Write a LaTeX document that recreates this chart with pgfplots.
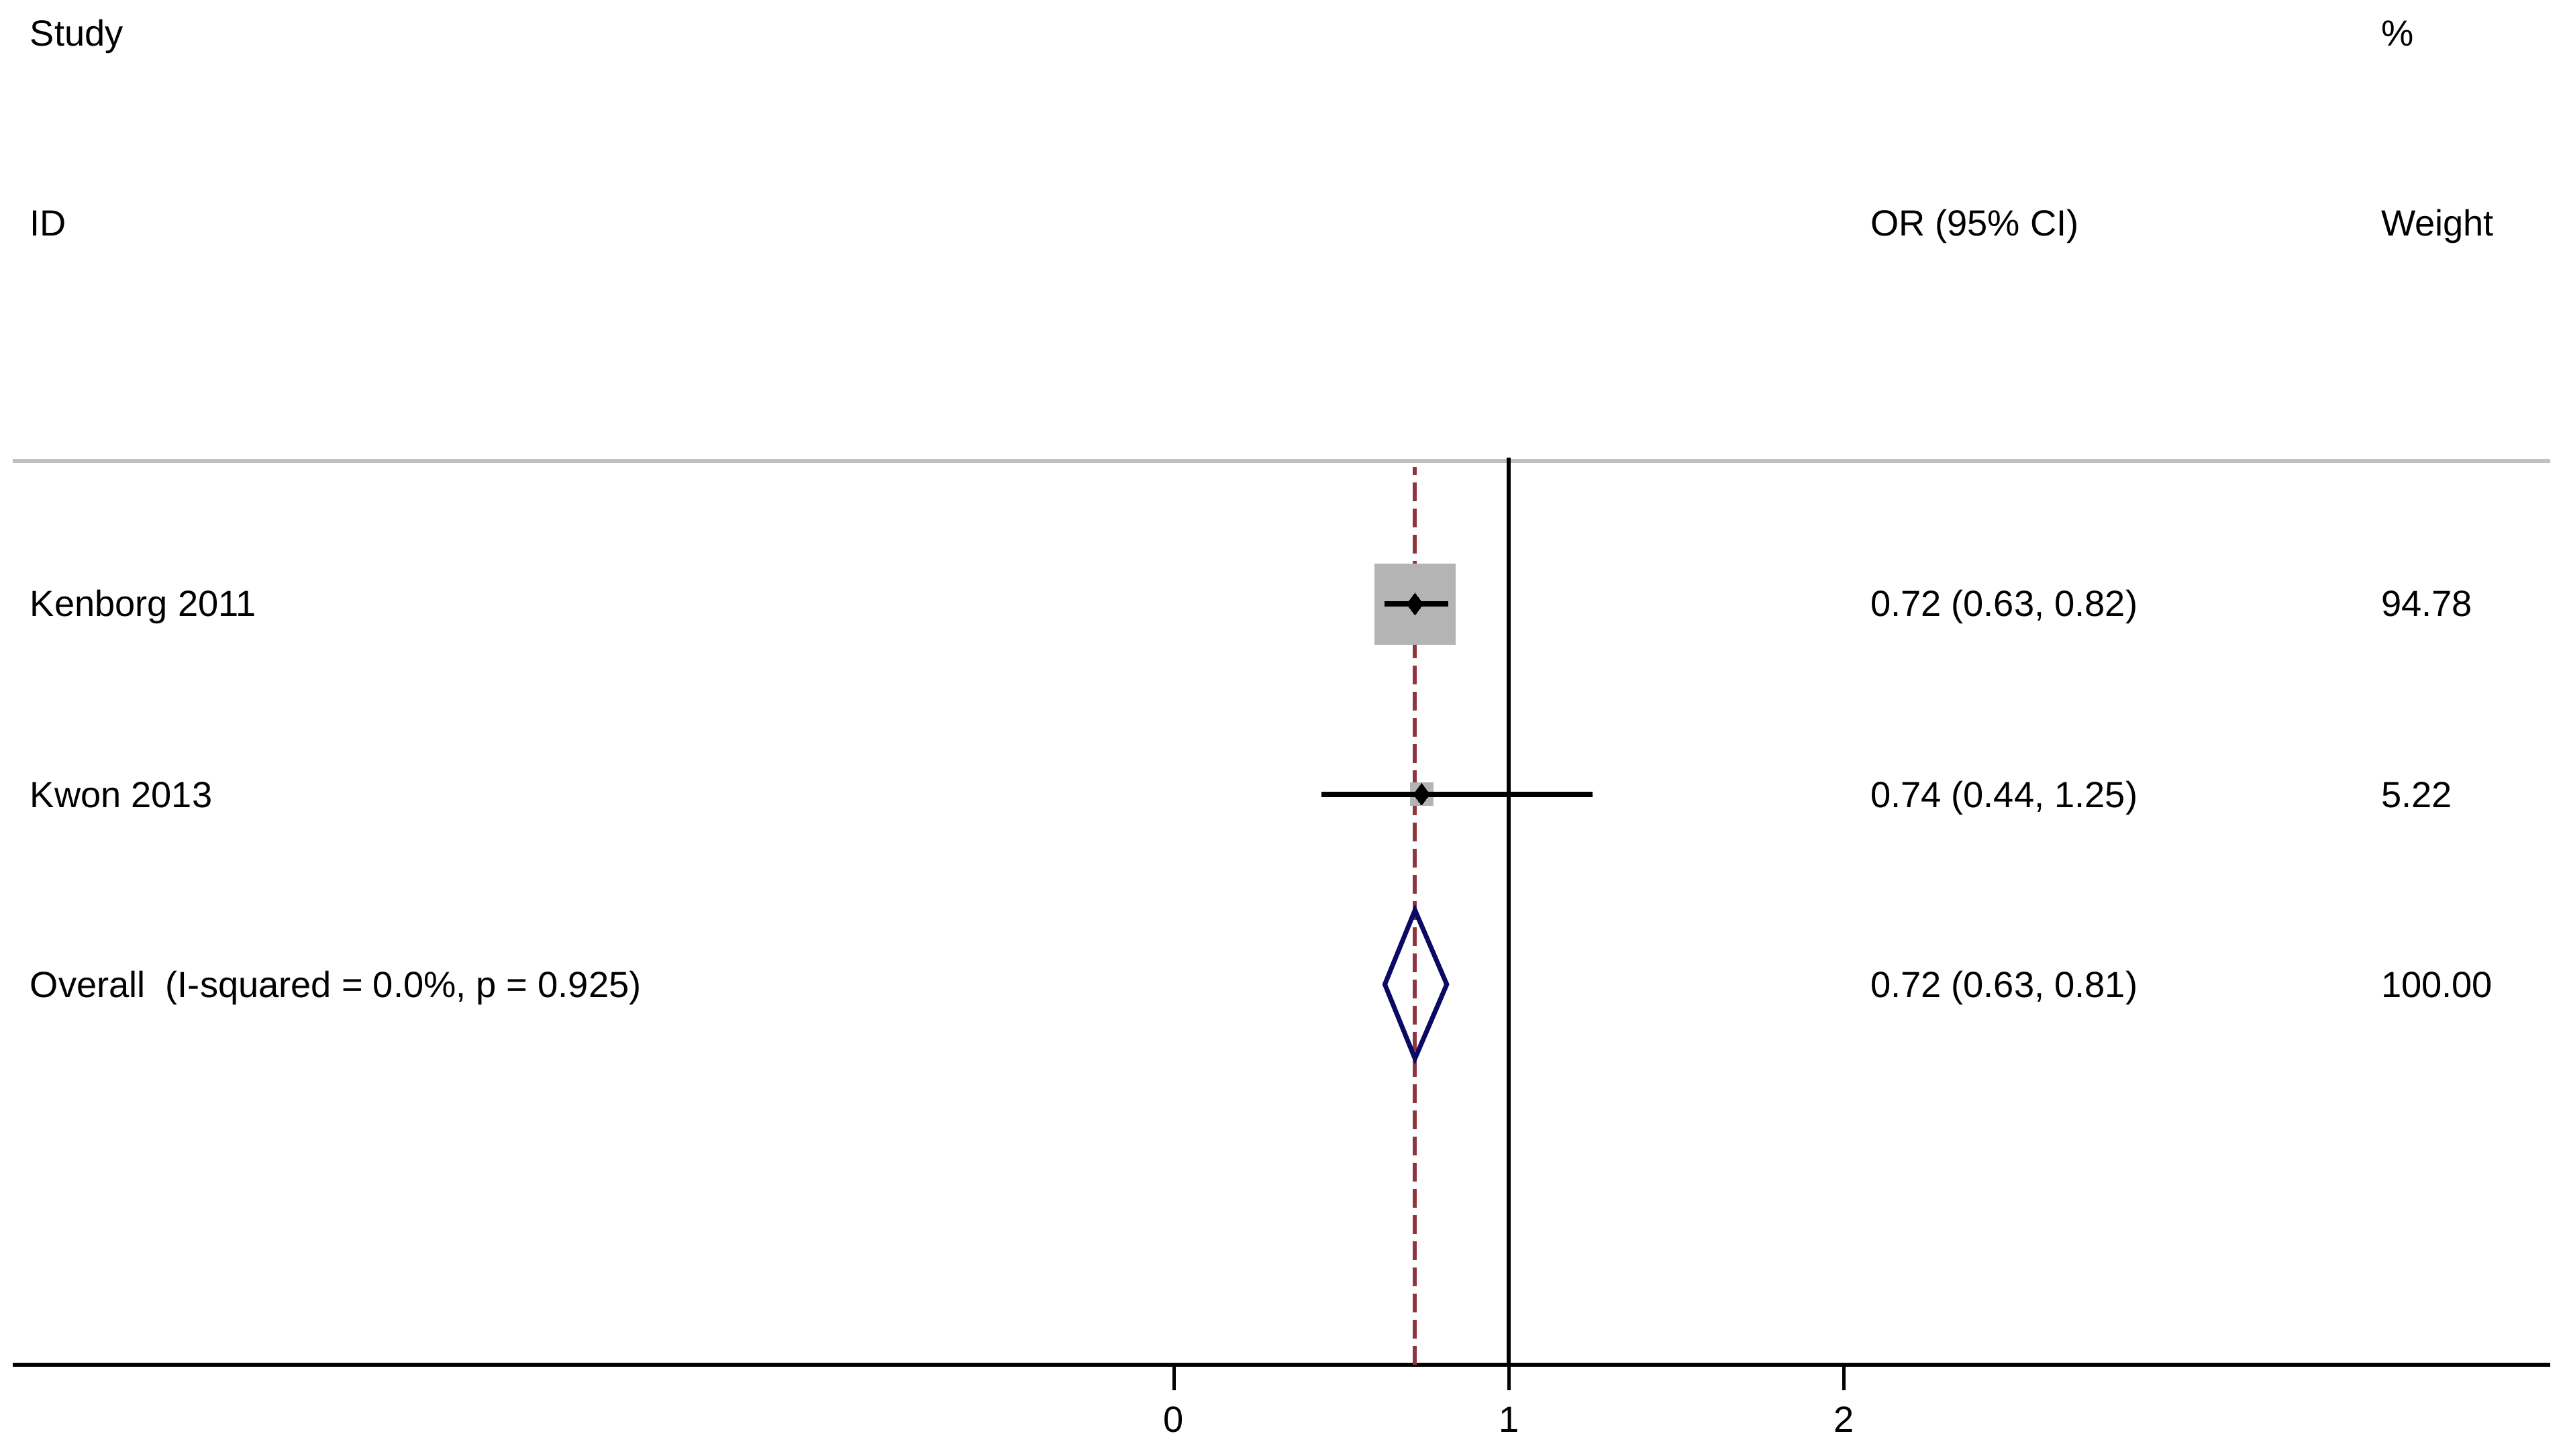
\documentclass[border=0pt]{standalone}
\usepackage{pgfplots}
\pgfplotsset{compat=1.18}
\usepackage{fontspec}
\setmainfont{Liberation Sans}
\definecolor{refred}{RGB}{144,53,64}
\definecolor{refnavy}{RGB}{10,10,100}
\definecolor{boxgray}{RGB}{180,180,180}
\definecolor{linegray}{RGB}{192,192,192}
\begin{document}
\fontsize{10.85}{13}\selectfont
\begin{tikzpicture}
\begin{axis}[
  scale only axis,
  width=756.1pt, height=406.8pt,
  xmin=-3.466, xmax=4.110,
  ymin=0, ymax=7.175,
  axis x line*=bottom,
  axis y line=none,
  axis line style={line width=1.15pt, black, -},
  xtick={0,1,2},
  xticklabels={0,1,2},
  tick style={line width=1pt, black},
  tick align=outside,
  major tick length=7.6pt,
  xticklabel style={font=\fontsize{10.85}{13}\selectfont, inner sep=0pt, anchor=north, yshift=-4.8pt},
  clip=false,
  clip marker paths=true,
]
% page extent
\path (axis cs:-3.505,-0.476) rectangle (axis cs:4.148,7.175);
% header separator
\addplot[linegray, line width=1.2pt, forget plot] coordinates {(-3.466,4.751) (4.110,4.751)};
% null line
\addplot[black, line width=1.2pt] coordinates {(1,0) (1,4.77)};
% overall effect line
\addplot[refred, line width=1.2pt, dash pattern=on 5.6pt off 2.2pt, dash phase=0pt] coordinates {(0.72,0) (0.72,4.72)};
% study boxes
\addplot[boxgray, only marks, mark=square*, mark size=12pt, mark options={fill=boxgray, draw=boxgray, line width=0pt}] coordinates {(0.72,4)};
\addplot[boxgray, only marks, mark=square*, mark size=3.4pt, mark options={fill=boxgray, draw=boxgray, line width=0pt}] coordinates {(0.74,3)};
% confidence intervals
\addplot[black, line width=1.6pt] coordinates {(0.63,4) (0.82,4)};
\addplot[black, line width=1.6pt] coordinates {(0.44,3) (1.25,3)};
% point estimates
\addplot[black, only marks, mark=diamond*, mark size=3.25pt, mark options={fill=black, draw=black, line width=0pt}] coordinates {(0.72,4) (0.74,3)};
% overall diamond
\addplot[refnavy, line width=1.4pt, line join=miter] coordinates {(0.63,2) (0.72,2.39) (0.815,2) (0.72,1.61) (0.63,2)} -- cycle;
% text
\node[anchor=base west, inner sep=0pt] at (axis cs:-3.417,6.932) {Study};
\node[anchor=base west, inner sep=0pt] at (axis cs:-3.417,5.935) {ID};
\node[anchor=base west, inner sep=0pt] at (axis cs:-3.417,3.935) {Kenborg 2011};
\node[anchor=base west, inner sep=0pt] at (axis cs:-3.417,2.931) {Kwon 2013};
\node[anchor=base west, inner sep=0pt] at (axis cs:-3.417,1.931) {Overall\ \ (I-squared = 0.0\%, p = 0.925)};
\node[anchor=base west, inner sep=0pt] at (axis cs:2.078,5.935) {OR (95\% CI)};
\node[anchor=base west, inner sep=0pt] at (axis cs:2.078,3.935) {0.72 (0.63, 0.82)};
\node[anchor=base west, inner sep=0pt] at (axis cs:2.078,2.931) {0.74 (0.44, 1.25)};
\node[anchor=base west, inner sep=0pt] at (axis cs:2.078,1.931) {0.72 (0.63, 0.81)};
\node[anchor=base west, inner sep=0pt] at (axis cs:3.603,6.932) {\%};
\node[anchor=base west, inner sep=0pt] at (axis cs:3.603,5.935) {Weight};
\node[anchor=base west, inner sep=0pt] at (axis cs:3.603,3.935) {94.78};
\node[anchor=base west, inner sep=0pt] at (axis cs:3.603,2.931) {5.22};
\node[anchor=base west, inner sep=0pt] at (axis cs:3.603,1.931) {100.00};
\end{axis}
\end{tikzpicture}
\end{document}
